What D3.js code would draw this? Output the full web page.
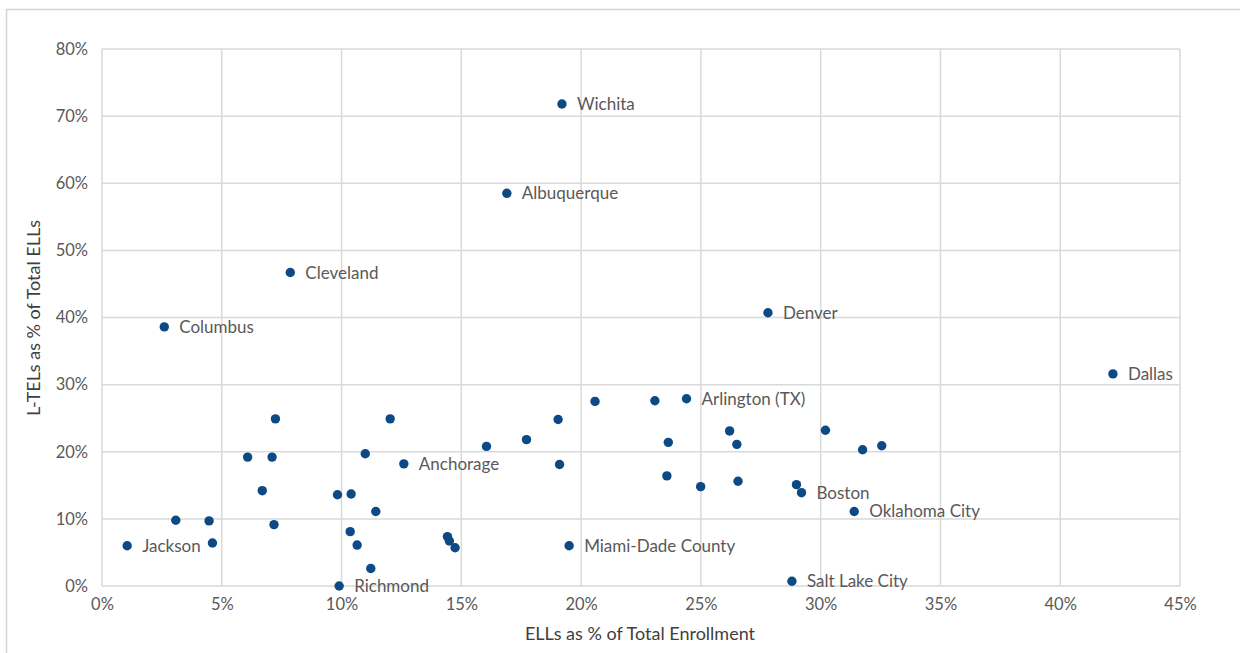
<!DOCTYPE html>
<html>
<head>
<meta charset="utf-8">
<script src="https://cdn.jsdelivr.net/npm/d3@7"></script>
<style>
  html, body { margin: 0; padding: 0; background: #fff; }
  svg { display: block; font-family: Lato, "Open Sans", sans-serif; }
</style>
</head>
<body>
<svg id="chart" width="1240" height="653"></svg>
<script>
// ELLs as % of total enrollment (x) and L-TELs as % of total ELLs (y)
const districts = ["Wichita","Albuquerque","Cleveland","Columbus","Denver","Dallas","Arlington (TX)","Anchorage","Boston","Oklahoma City","Miami-Dade County","Salt Lake City","Jackson","Richmond",
  "","","","","","","","","","","","","","","","","","","","",
  "","","","","","","","","","","","","","",""];
const ellPct = [19.2,16.9,7.86,2.6,27.8,42.2,24.4,12.6,29.2,31.4,19.5,28.8,1.05,9.9,
  7.24,12.03,16.05,6.08,7.10,10.99,6.69,9.83,10.4,11.43,3.08,4.47,7.18,10.36,4.61,10.65,14.42,14.5,14.74,11.22,
  17.72,19.04,19.1,20.58,23.08,23.64,23.58,24.99,26.2,26.5,26.55,28.99,30.2,31.75,32.55];
const ltelPct = [71.8,58.5,46.7,38.6,40.7,31.6,27.9,18.2,13.9,11.1,6.0,0.7,6.0,0.0,
  24.9,24.9,20.8,19.2,19.2,19.7,14.2,13.6,13.7,11.1,9.8,9.7,9.15,8.1,6.4,6.1,7.36,6.7,5.7,2.6,
  21.8,24.8,18.1,27.5,27.6,21.4,16.4,14.8,23.1,21.1,15.6,15.1,23.2,20.3,20.9];
const xTicks = [0,5,10,15,20,25,30,35,40,45];
const yTicks = [0,10,20,30,40,50,60,70,80];
const xTitle = "ELLs as % of Total Enrollment";
const yTitle = "L-TELs as % of Total ELLs";

const svg = d3.select("#chart");
const W = 1240, H = 653;
const mLeft = 102, mRight = 1180, mTop = 49, mBottom = 586;

// outer frame
svg.append("path")
  .attr("d", `M6.5,${H} L6.5,9.5 L${W},9.5`)
  .attr("fill", "none").attr("stroke", "#d4d4d4").attr("stroke-width", 1.5);

const x = d3.scaleLinear().domain([0, 45]).range([mLeft, mRight]);
const y = d3.scaleLinear().domain([0, 80]).range([mBottom, mTop]);

const grid = svg.append("g");
grid.selectAll("line.v").data(xTicks).join("line").attr("class", "v")
  .attr("x1", d => x(d)).attr("x2", d => x(d))
  .attr("y1", mTop).attr("y2", mBottom)
  .attr("stroke", "#d9d9d9").attr("stroke-width", 1.5);
grid.selectAll("line.h").data(yTicks).join("line").attr("class", "h")
  .attr("y1", d => y(d)).attr("y2", d => y(d))
  .attr("x1", mLeft).attr("x2", mRight)
  .attr("stroke", "#d9d9d9").attr("stroke-width", 1.5);

const xAxis = d3.axisBottom(x).tickValues(xTicks).tickFormat(d => d + "%").tickSize(0).tickPadding(12);
const gx = svg.append("g").attr("transform", `translate(0,${mBottom})`).call(xAxis);
gx.select(".domain").remove();
gx.selectAll("text").attr("fill", "#595959").style("font-size", "16.5px").style("font-family", "Lato");

const yAxis = d3.axisLeft(y).tickValues(yTicks).tickFormat(d => d + "%").tickSize(0).tickPadding(14);
const gy = svg.append("g").attr("transform", `translate(${mLeft},0)`).call(yAxis);
gy.select(".domain").remove();
gy.selectAll("text").attr("fill", "#595959").style("font-size", "16.5px").style("font-family", "Lato");

svg.append("text").attr("x", 640).attr("y", 640).attr("text-anchor", "middle")
  .attr("fill", "#404040").style("font-size", "18px").style("font-family", "Lato")
  .text(xTitle);
svg.append("text").attr("transform", `translate(40,318) rotate(-90)`).attr("text-anchor", "middle")
  .attr("fill", "#404040").style("font-size", "18px").style("font-family", "Lato")
  .text(yTitle);

const pts = districts.map((name, i) => ({name, xv: ellPct[i], yv: ltelPct[i]}));
svg.append("g").selectAll("circle").data(pts).join("circle")
  .attr("cx", d => x(d.xv)).attr("cy", d => y(d.yv)).attr("r", 4.7)
  .attr("fill", "#0d4a85");

svg.append("g").selectAll("text").data(pts.filter(d => d.name)).join("text")
  .attr("x", d => x(d.xv) + 15).attr("y", d => y(d.yv) + 6)
  .attr("fill", "#595959").style("font-size", "17px").style("font-family", "Lato")
  .text(d => d.name);
</script>
</body>
</html>
